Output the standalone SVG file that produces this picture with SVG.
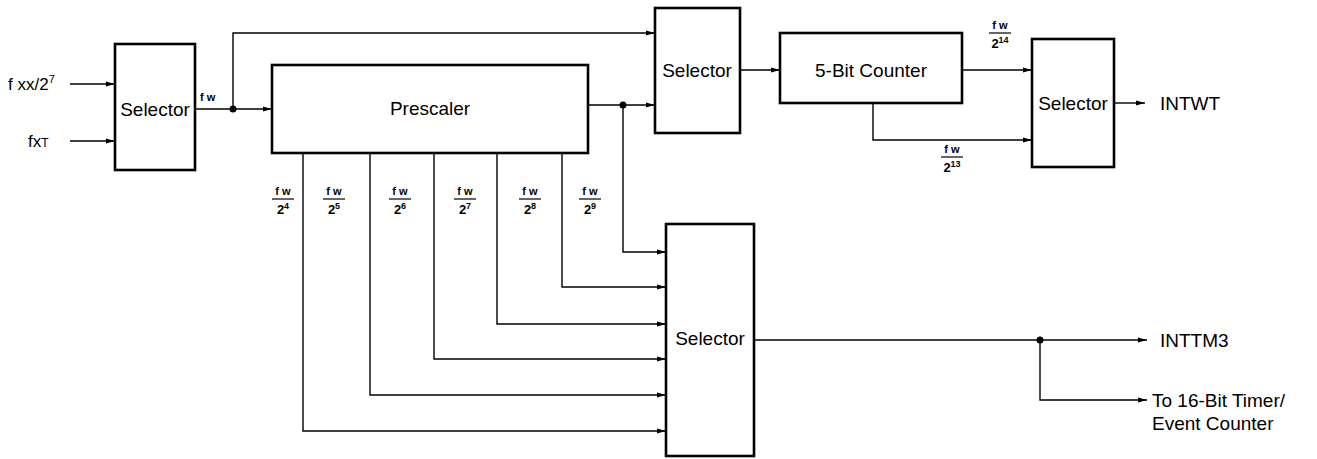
<svg xmlns="http://www.w3.org/2000/svg" width="1317" height="459" viewBox="0 0 1317 459">
<style>
.box{fill:#fff;stroke:#000;stroke-width:2.6}
.ln{fill:none;stroke:#000;stroke-width:1.4}
.t{font-family:"Liberation Sans",Arial,sans-serif;font-size:19px;fill:#000}
.f{font-family:"Liberation Sans",Arial,sans-serif;font-size:11px;font-weight:bold;fill:#000}
.d{font-family:"Liberation Sans",Arial,sans-serif;font-size:13px;font-weight:bold;fill:#000}
.bar{stroke:#000;stroke-width:1.2}
</style>
<defs>
<marker id="ar" markerUnits="userSpaceOnUse" markerWidth="10" markerHeight="6" refX="9" refY="3" orient="auto">
<path d="M0,0.5 L9,3 L0,5.5 Z" fill="#000"/>
</marker>
</defs>
<rect width="1317" height="459" fill="#fff"/>
<g id="connectors">
<path class="ln" d="M70,84 H115" marker-end="url(#ar)"/>
<path class="ln" d="M70,141 H115" marker-end="url(#ar)"/>
<path class="ln" d="M195,109 H272" marker-end="url(#ar)"/>
<path class="ln" d="M233,109 V33 H655" marker-end="url(#ar)"/>
<circle cx="233" cy="109" r="3.5"/>
<path class="ln" d="M588,105 H655" marker-end="url(#ar)"/>
<circle cx="623" cy="105" r="3.5"/>
<path class="ln" d="M623,105 V252 H666" marker-end="url(#ar)"/>
<path class="ln" d="M562,153 V287 H666" marker-end="url(#ar)"/>
<path class="ln" d="M497,153 V324 H666" marker-end="url(#ar)"/>
<path class="ln" d="M434,153 V359 H666" marker-end="url(#ar)"/>
<path class="ln" d="M370,153 V395 H666" marker-end="url(#ar)"/>
<path class="ln" d="M303,153 V431 H666" marker-end="url(#ar)"/>
<path class="ln" d="M740,70 H780" marker-end="url(#ar)"/>
<path class="ln" d="M962,70 H1032" marker-end="url(#ar)"/>
<path class="ln" d="M873,103 V140 H1032" marker-end="url(#ar)"/>
<path class="ln" d="M1114,103 H1145" marker-end="url(#ar)"/>
<path class="ln" d="M754,340 H1147" marker-end="url(#ar)"/>
<circle cx="1040" cy="340" r="3.5"/>
<path class="ln" d="M1040,340 V400 H1147" marker-end="url(#ar)"/>
</g>
<g id="inputs">
<text class="t" x="8" y="90" style="font-size:17px">f xx/2<tspan dy="-7" style="font-size:11px">7</tspan></text>
<text class="t" x="28" y="147" style="font-size:17px">fx<tspan style="font-size:12px">T</tspan></text>
<text class="f" x="200" y="101">f w</text>
</g>
<g id="selector1">
<rect class="box" x="115" y="44" width="80" height="126"/>
<text class="t" x="155" y="109" text-anchor="middle" dominant-baseline="central">Selector</text>
</g>
<g id="prescaler">
<rect class="box" x="272" y="65" width="316" height="88"/>
<text class="t" x="430" y="108" text-anchor="middle" dominant-baseline="central">Prescaler</text>
</g>
<g id="selector2">
<rect class="box" x="655" y="8" width="85" height="125"/>
<text class="t" x="697" y="70" text-anchor="middle" dominant-baseline="central">Selector</text>
</g>
<g id="counter">
<rect class="box" x="780" y="33" width="182" height="70"/>
<text class="t" x="871" y="70" text-anchor="middle" dominant-baseline="central">5-Bit Counter</text>
</g>
<g id="selector4">
<rect class="box" x="1032" y="39" width="82" height="128"/>
<text class="t" x="1073" y="103" text-anchor="middle" dominant-baseline="central">Selector</text>
</g>
<g id="selector3">
<rect class="box" x="666" y="224" width="88" height="232"/>
<text class="t" x="710" y="338" text-anchor="middle" dominant-baseline="central">Selector</text>
</g>
<g id="outputs">
<text class="t" x="1160" y="103" dominant-baseline="central">INTWT</text>
<text class="t" x="1160" y="340" dominant-baseline="central">INTTM3</text>
<text class="t" x="1152" y="400" dominant-baseline="central">To 16-Bit Timer/</text>
<text class="t" x="1152" y="423" dominant-baseline="central">Event Counter</text>
</g>
<g id="fractions">
<g transform="translate(283,0)"><text class="f" x="0" y="195" text-anchor="middle">f w</text><line class="bar" x1="-11" y1="199" x2="11" y2="199"/><text class="d" x="0" y="214" text-anchor="middle">2<tspan dy="-5" style="font-size:9px">4</tspan></text></g>
<g transform="translate(334,0)"><text class="f" x="0" y="195" text-anchor="middle">f w</text><line class="bar" x1="-11" y1="199" x2="11" y2="199"/><text class="d" x="0" y="214" text-anchor="middle">2<tspan dy="-5" style="font-size:9px">5</tspan></text></g>
<g transform="translate(400,0)"><text class="f" x="0" y="195" text-anchor="middle">f w</text><line class="bar" x1="-11" y1="199" x2="11" y2="199"/><text class="d" x="0" y="214" text-anchor="middle">2<tspan dy="-5" style="font-size:9px">6</tspan></text></g>
<g transform="translate(465,0)"><text class="f" x="0" y="195" text-anchor="middle">f w</text><line class="bar" x1="-11" y1="199" x2="11" y2="199"/><text class="d" x="0" y="214" text-anchor="middle">2<tspan dy="-5" style="font-size:9px">7</tspan></text></g>
<g transform="translate(530,0)"><text class="f" x="0" y="195" text-anchor="middle">f w</text><line class="bar" x1="-11" y1="199" x2="11" y2="199"/><text class="d" x="0" y="214" text-anchor="middle">2<tspan dy="-5" style="font-size:9px">8</tspan></text></g>
<g transform="translate(590,0)"><text class="f" x="0" y="195" text-anchor="middle">f w</text><line class="bar" x1="-11" y1="199" x2="11" y2="199"/><text class="d" x="0" y="214" text-anchor="middle">2<tspan dy="-5" style="font-size:9px">9</tspan></text></g>
<g transform="translate(1000,-166)"><text class="f" x="0" y="195" text-anchor="middle">f w</text><line class="bar" x1="-11" y1="199" x2="11" y2="199"/><text class="d" x="0" y="214" text-anchor="middle">2<tspan dy="-5" style="font-size:9px">14</tspan></text></g>
<g transform="translate(952,-42)"><text class="f" x="0" y="195" text-anchor="middle">f w</text><line class="bar" x1="-11" y1="199" x2="11" y2="199"/><text class="d" x="0" y="214" text-anchor="middle">2<tspan dy="-5" style="font-size:9px">13</tspan></text></g>
</g>
</svg>
